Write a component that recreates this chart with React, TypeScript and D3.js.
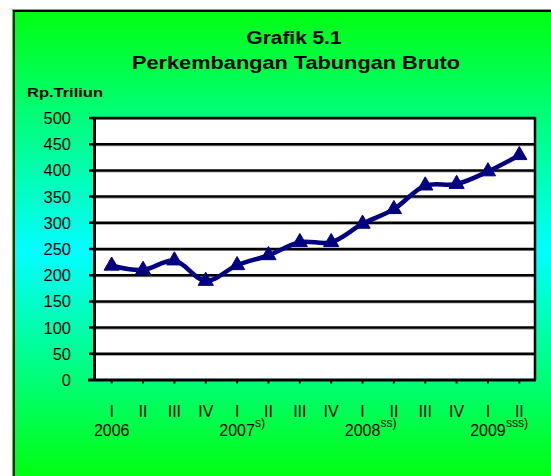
import React, { useEffect, useRef } from 'react';
import * as d3 from 'd3';

const quarters = ['I', 'II', 'III', 'IV', 'I', 'II', 'III', 'IV', 'I', 'II', 'III', 'IV', 'I', 'II'];
const savings = [218, 210, 228, 189, 219, 238, 263, 263, 298, 326, 371, 374, 398, 429];
const years = ['2006', '2007', '2008', '2009'];
const yearNotes = ['', 's)', 'ss)', 'sss)'];
const yearStart = [0, 4, 8, 12];
const yTicks = [0, 50, 100, 150, 200, 250, 300, 350, 400, 450, 500];

const width = 551;
const height = 476;
const font = 'Arial, "Liberation Sans", sans-serif';

export default function App() {
  const svgRef = useRef<SVGSVGElement>(null);

  useEffect(() => {
    if (!svgRef.current) return;
    const svg = d3.select(svgRef.current);
    svg.selectAll('*').remove();

    const plot = { left: 96, top: 118, right: 535, bottom: 380 };

    // Background gradient green -> cyan -> green
    const defs = svg.append('defs');
    const grad = defs.append('linearGradient')
      .attr('id', 'bg')
      .attr('x1', 0).attr('y1', 0).attr('x2', 0).attr('y2', 1);
    grad.append('stop').attr('offset', '0%').attr('stop-color', '#00ff10');
    grad.append('stop').attr('offset', '50%').attr('stop-color', '#00ffff');
    grad.append('stop').attr('offset', '100%').attr('stop-color', '#00ff00');

    svg.append('rect')
      .attr('x', 12).attr('y', 9)
      .attr('width', 560).attr('height', 480)
      .attr('fill', '#00ff00');
    svg.append('rect')
      .attr('x', 14).attr('y', 11)
      .attr('width', 560).attr('height', 480)
      .attr('fill', 'url(#bg)')
      .attr('stroke', '#000')
      .attr('stroke-width', 2);

    // Titles
    svg.append('text')
      .attr('x', 294).attr('y', 44)
      .attr('text-anchor', 'middle')
      .attr('font-family', font).attr('font-weight', 'bold').attr('font-size', 18)
      .attr('textLength', 95).attr('lengthAdjust', 'spacingAndGlyphs')
      .text('Grafik 5.1');
    svg.append('text')
      .attr('x', 296).attr('y', 69)
      .attr('text-anchor', 'middle')
      .attr('font-family', font).attr('font-weight', 'bold').attr('font-size', 18)
      .attr('textLength', 328).attr('lengthAdjust', 'spacingAndGlyphs')
      .text('Perkembangan  Tabungan  Bruto');
    svg.append('text')
      .attr('x', 27).attr('y', 97)
      .attr('font-family', font).attr('font-weight', 'bold').attr('font-size', 13)
      .attr('textLength', 76).attr('lengthAdjust', 'spacingAndGlyphs')
      .text('Rp.Triliun');

    // Scales
    const x = d3.scaleBand<number>()
      .domain(d3.range(quarters.length))
      .range([plot.left, plot.right]);
    const cx = (i: number) => (x(i) ?? 0) + x.bandwidth() / 2;
    const y = d3.scaleLinear().domain([0, 500]).range([plot.bottom, plot.top]);

    svg.append('rect')
      .attr('x', plot.left).attr('y', plot.top)
      .attr('width', plot.right - plot.left).attr('height', plot.bottom - plot.top)
      .attr('fill', '#fff');

    // Grid lines
    yTicks.filter(t => t > 0).forEach(t => {
      svg.append('line')
        .attr('x1', plot.left).attr('x2', plot.right)
        .attr('y1', y(t) + 1.5).attr('y2', y(t) + 1.5)
        .attr('stroke', '#9a9a9a').attr('stroke-width', 1);
      svg.append('line')
        .attr('x1', plot.left - 7).attr('x2', plot.right)
        .attr('y1', y(t)).attr('y2', y(t))
        .attr('stroke', '#000').attr('stroke-width', 2.5);
    });

    // Plot border + axes
    svg.append('line')
      .attr('x1', plot.right).attr('x2', plot.right)
      .attr('y1', plot.top - 1).attr('y2', plot.bottom)
      .attr('stroke', '#000').attr('stroke-width', 2.5);
    svg.append('line')
      .attr('x1', plot.left - 1.5).attr('x2', plot.left - 1.5)
      .attr('y1', plot.top - 1).attr('y2', plot.bottom + 1)
      .attr('stroke', '#000').attr('stroke-width', 3);
    svg.append('line')
      .attr('x1', plot.left - 8).attr('x2', plot.right + 1)
      .attr('y1', plot.bottom).attr('y2', plot.bottom)
      .attr('stroke', '#000').attr('stroke-width', 3);

    // Y labels
    yTicks.forEach(t => {
      svg.append('text')
        .attr('x', 71).attr('y', y(t) + 6)
        .attr('text-anchor', 'end')
        .attr('font-family', font).attr('font-size', 16.5)
        .text(t);
    });

    // X ticks and labels
    quarters.forEach((q, i) => {
      svg.append('line')
        .attr('x1', cx(i)).attr('x2', cx(i))
        .attr('y1', plot.bottom).attr('y2', plot.bottom + 3.5)
        .attr('stroke', '#000').attr('stroke-width', 2);
      svg.append('text')
        .attr('x', cx(i)).attr('y', 417)
        .attr('text-anchor', 'middle')
        .attr('font-family', font).attr('font-size', 16)
        .text(q);
    });
    years.forEach((yr, k) => {
      const c = cx(yearStart[k]);
      svg.append('text')
        .attr('x', c).attr('y', 436)
        .attr('text-anchor', 'middle')
        .attr('font-family', font).attr('font-size', 16)
        .text(yr);
      if (yearNotes[k]) {
        svg.append('text')
          .attr('x', c + 18).attr('y', 427)
          .attr('font-family', font).attr('font-size', 12)
          .text(yearNotes[k]);
      }
    });

    // Series line
    const line = d3.line<number>()
      .x((_, i) => cx(i))
      .y(d => y(d))
      .curve(d3.curveCatmullRom.alpha(0.5));
    svg.append('path')
      .datum(savings)
      .attr('fill', 'none')
      .attr('stroke', '#000080')
      .attr('stroke-width', 4.5)
      .attr('stroke-linejoin', 'round')
      .attr('d', line);

    const tri = d3.symbol().type(d3.symbolTriangle).size(100);
    svg.selectAll('path.marker')
      .data(savings)
      .join('path')
      .attr('class', 'marker')
      .attr('transform', (d, i) => `translate(${cx(i)},${y(d)})`)
      .attr('d', tri() as string)
      .attr('fill', '#000080')
      .attr('stroke', '#000080')
      .attr('stroke-width', 1);
  }, []);

  return (
    <svg
      ref={svgRef}
      width={width}
      height={height}
      style={{ position: 'absolute', left: 0, top: 0, display: 'block' }}
    />
  );
}
